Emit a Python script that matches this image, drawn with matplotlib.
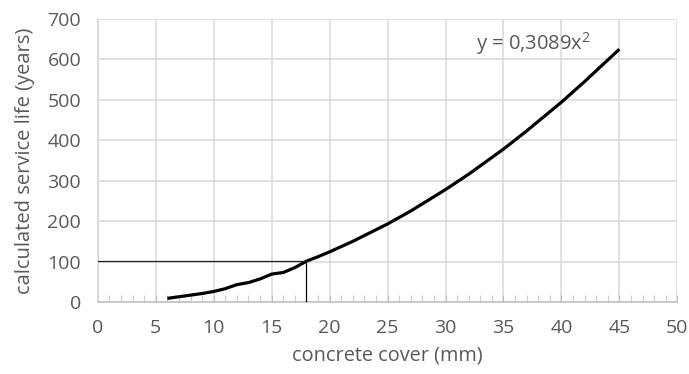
import matplotlib
matplotlib.use('Agg')
import matplotlib.pyplot as plt
from matplotlib.ticker import MultipleLocator

# concrete cover (mm) vs calculated service life (years)
cover = [6, 7, 8, 9, 10, 11, 12, 13, 14, 15, 16, 17, 18, 19, 20,
         22, 25, 27, 30, 32, 35, 37, 40, 42, 45]
life = [9, 13, 17, 21, 26, 33, 43, 48, 57, 69, 73, 85, 101, 112, 124,
        150, 193, 225, 278, 316, 378, 423, 494, 545, 625]

# reading lines for 100 years of service life
target_life = 102
target_cover = 18

xticks = [0, 5, 10, 15, 20, 25, 30, 35, 40, 45, 50]
yticks = [0, 100, 200, 300, 400, 500, 600, 700]

plt.rcParams['font.family'] = ['Open Sans', 'DejaVu Sans']
plt.rcParams['mathtext.fontset'] = 'custom'
plt.rcParams['mathtext.rm'] = 'Open Sans'
plt.rcParams['mathtext.default'] = 'regular'
grey = '#595959'

fig = plt.figure(figsize=(6.89, 3.74), dpi=100)
ax = fig.add_axes([0.142, 0.1925, 0.841, 0.757])

ax.plot(cover, life, color='black', lw=2.3, solid_capstyle='butt', zorder=3)
ax.plot([0, target_cover], [target_life, target_life], color='#202020', lw=0.9, zorder=3)
ax.plot([target_cover, target_cover], [0, target_life], color='black', lw=0.9, zorder=3)

ax.text(32.6, 623, 'y = 0,3089x$^{2}$', color=grey, fontsize=14.5, va='baseline')

ax.set_xlim(0, 50)
ax.set_ylim(0, 700)
ax.set_xticks(xticks)
ax.set_yticks(yticks)
ax.xaxis.set_minor_locator(MultipleLocator(1))
ax.grid(True, color='#d9d9d9', lw=1.1)
ax.set_axisbelow(True)

for s in ['top', 'right']:
    ax.spines[s].set_visible(False)
ax.spines['left'].set_color('#d9d9d9')
ax.spines['left'].set_linewidth(1.1)
ax.spines['bottom'].set_color('#bfbfbf')
ax.spines['bottom'].set_linewidth(1.1)

ax.tick_params(axis='x', which='both', direction='in', length=5, color='#bfbfbf',
               labelcolor=grey, labelsize=14, pad=12)
ax.tick_params(axis='y', length=0, labelcolor=grey, labelsize=14, pad=12)

ax.set_xlabel('concrete cover (mm)', color=grey, fontsize=14.3, labelpad=6)
ax.set_ylabel('calculated service life (years)', color=grey, fontsize=14.5, labelpad=9)

fig.savefig('out.png', dpi=100)
